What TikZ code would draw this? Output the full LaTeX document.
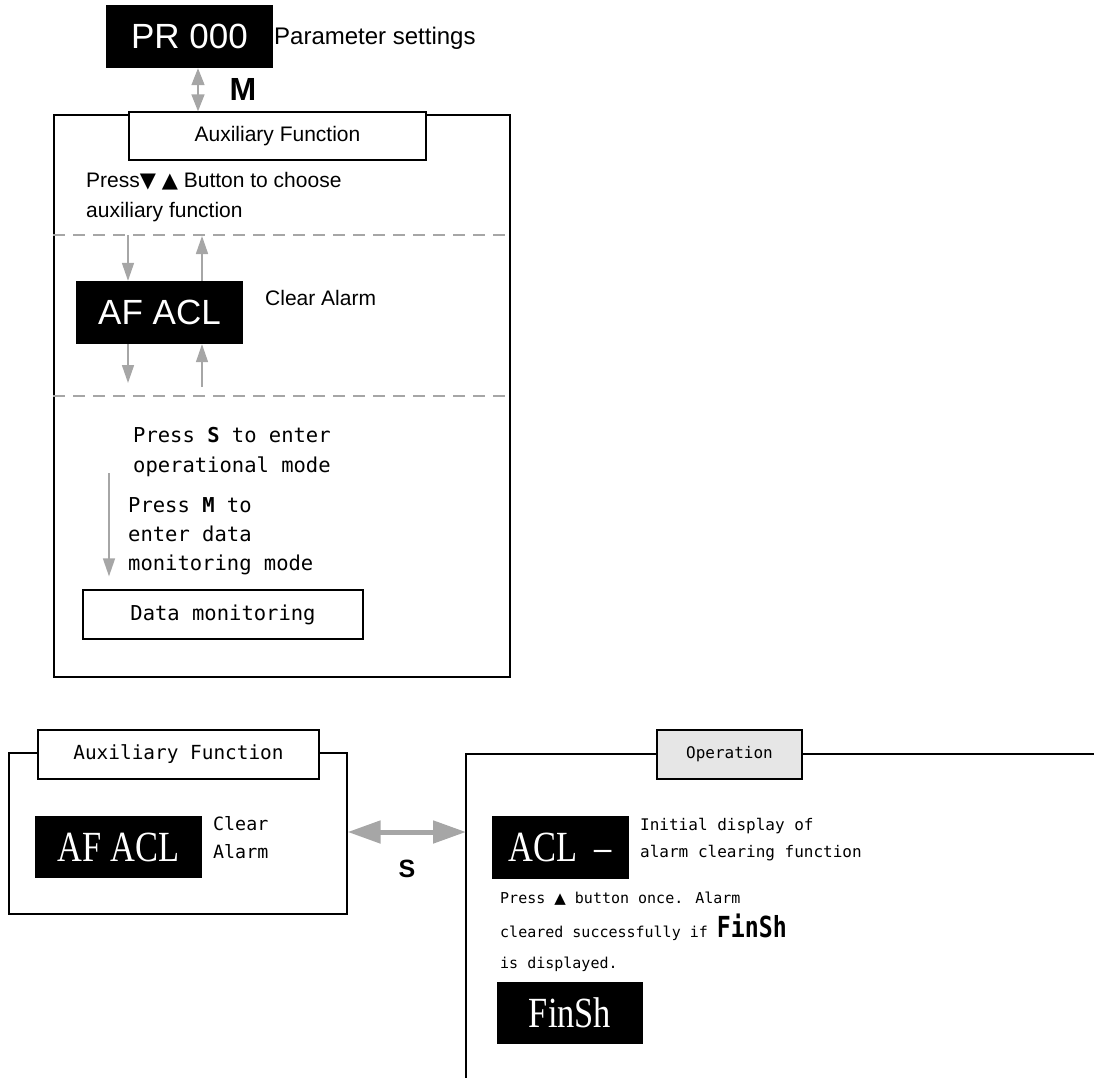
\documentclass[tikz,border=0pt]{standalone}
\usepackage{fontspec}
\setmainfont{Liberation Sans}
\newfontfamily\monof{DejaVu Sans Mono}
\newfontfamily\segf{Liberation Serif}
\newfontfamily\symf{DejaVu Sans}
\usetikzlibrary{arrows.meta,calc}
\definecolor{arrowgray}{HTML}{A6A6A6}
\definecolor{titlegray}{HTML}{E6E6E6}
\newcommand{\fsz}[2]{\fontsize{#1}{#2}\selectfont}
\newcommand{\segtext}[1]{{\segf\fsz{43}{43}\scalebox{0.8}[1]{#1}}}

\begin{document}
\begin{tikzpicture}[x=1pt,y=-1pt,
  disp/.style={fill=black,text=white,inner sep=0pt},
  frame/.style={draw,line width=1.3pt,inner sep=0pt},
  tbox/.style={draw,line width=1.3pt,fill=white,inner sep=0pt},
  garrow/.style={arrowgray,line width=1.6pt,-{Triangle[length=18pt,width=12pt]}},
  sep/.style={arrowgray,line width=1.5pt,dash pattern=on 12pt off 8pt},
  txt/.style={anchor=base west,inner sep=0pt,align=left}]
  \useasboundingbox (0,0) rectangle (1094,1078);

  % parameter display and auxiliary function menu
  \node[disp,minimum width=167pt,minimum height=63pt,font=\fsz{35}{35}] (pr) at (189.5,36.5) {PR 000};
  \node[txt,font=\fsz{24}{24}] (prlab) at (274,45) {Parameter settings};
  \node[frame,minimum width=456pt,minimum height=562pt] (big) at (282,396) {};
  \node[tbox,minimum width=297pt,minimum height=48pt,font=\fsz{21}{21}] (auxt) at (277.5,136) {Auxiliary Function};
  \coordinate (mx) at (198,0);
  \draw[arrowgray,line width=1.6pt,{Triangle[length=17pt,width=13pt]}-{Triangle[length=17pt,width=13pt]}] (pr.south -| mx) -- (auxt.north -| mx);
  \node[font=\bfseries\fsz{32}{32},inner sep=0pt] (mkey) at (243,89) {M};
  \node[txt,font=\fsz{21}{29}] (choose) at (86,217) {Press{\symf▼} {\symf▲} Button to choose\\auxiliary function};

  \coordinate (d1) at (0,235);
  \coordinate (d2) at (0,396);
  \draw[sep] (big.west |- d1) -- (big.east |- d1);
  \draw[sep] (big.west |- d2) -- (big.east |- d2);

  \node[disp,minimum width=167pt,minimum height=63pt,font=\fsz{35}{35}] (af1) at (159.5,312.5) {AF ACL};
  \node[txt,font=\fsz{21}{21}] (clr1) at (265,305) {Clear Alarm};
  \coordinate (ax) at (128,0);
  \coordinate (bx) at (202,0);
  \draw[garrow] (ax |- d1) -- (af1.north -| ax);
  \draw[garrow] (af1.north -| bx) -- ($(bx |- d1)+(0,1)$);
  \draw[garrow] (af1.south -| ax) -- ($(ax |- d2)+(0,-13)$);
  \draw[garrow] ($(bx |- d2)+(0,-9)$) -- (af1.south -| bx);

  \node[txt,font=\monof\fsz{20.5}{30}] (ops) at (133,472) {Press \textbf{S} to enter\\operational mode};
  \node[txt,font=\monof\fsz{20.5}{29}] (mon) at (128,570) {Press \textbf{M} to\\enter data\\monitoring mode};
  \node[tbox,minimum width=280pt,minimum height=49pt,font=\monof\fsz{20.5}{20.5}] (dmon) at (223,614.5) {Data monitoring};
  \coordinate (cx) at (109,473);
  \draw[garrow] (cx) -- ($(dmon.north -| cx)+(0,-13)$);

  % auxiliary function and operation
  \node[frame,minimum width=338pt,minimum height=161pt] (aux) at (178,833.5) {};
  \node[tbox,minimum width=281pt,minimum height=49pt,font=\monof\fsz{19.4}{19.4}] (auxt2) at (178.5,754.5) {Auxiliary Function};
  \node[disp,minimum width=167pt,minimum height=62pt] (af2) at (118.5,847) {\segtext{AF\ ACL}};
  \node[txt,font=\monof\fsz{18.3}{28}] (clr2) at (213,858) {Clear\\Alarm};

  \coordinate (op) at (466,754);
  \draw[line width=1.3pt] (1094,754) -- (op) -- (466,1078);
  \node[tbox,fill=titlegray,minimum width=145pt,minimum height=49pt,font=\monof\fsz{16}{16}] (opt) at (729.5,754.5) {Operation};
  \coordinate (sy) at (0,832);
  \draw[arrowgray,line width=5pt,{Triangle[length=33pt,width=22pt]}-{Triangle[length=33pt,width=22pt]}] (aux.east |- sy) -- (op |- sy);
  \node[font=\bfseries\fsz{25}{25},inner sep=0pt] (skey) at (407,869) {S};

  \node[disp,minimum width=137pt,minimum height=63pt] (acl) at (560.5,847.5) {\segtext{ACL\ \ –}};
  \node[txt,font=\monof\fsz{16}{27}] (init) at (640,857) {Initial display of\\alarm clearing function};
  \node[txt,font=\monof\fsz{15}{31}] (press) at (500,968) {Press {\symf▲} button once. Alarm\\[3pt]cleared successfully if {\bfseries\fsz{29}{29}\scalebox{0.8}[1]{FinSh}}\\is displayed.};
  \node[disp,minimum width=146pt,minimum height=62pt] (fin) at (570,1013) {\segtext{FinSh}};
\end{tikzpicture}
\end{document}
